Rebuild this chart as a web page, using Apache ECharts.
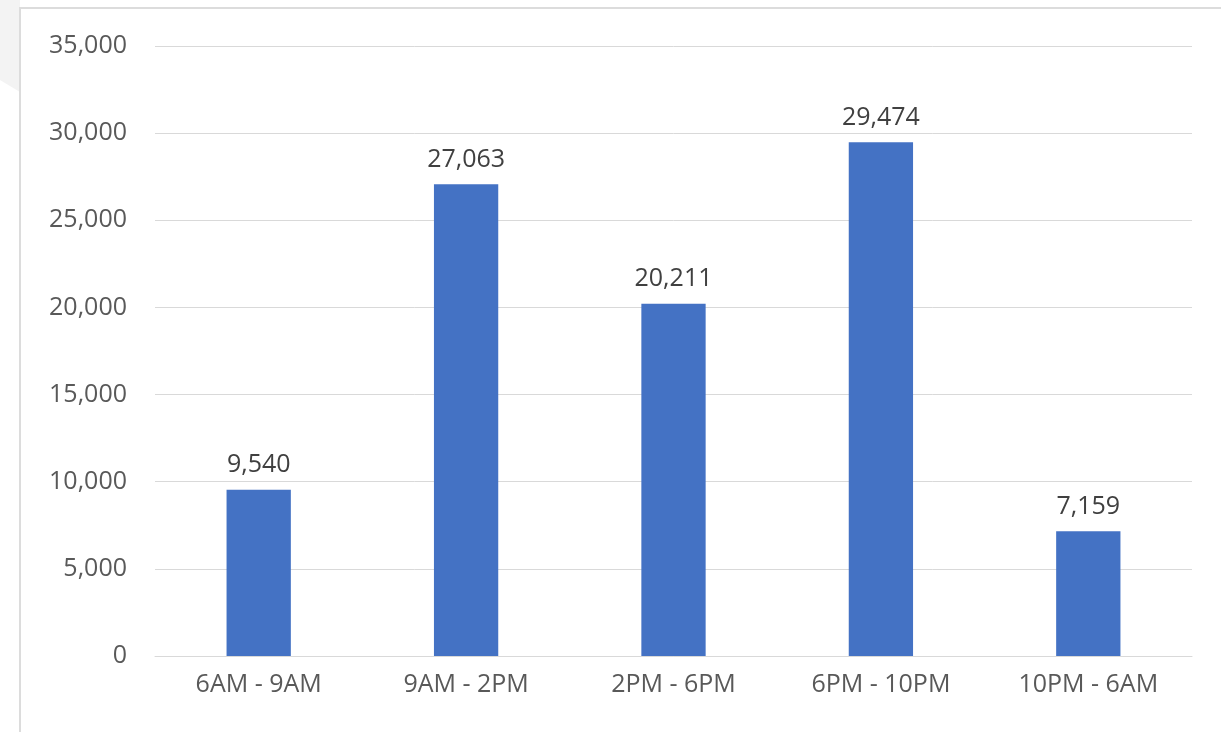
<!DOCTYPE html>
<html>
<head>
<meta charset="utf-8">
<script src="https://cdn.jsdelivr.net/npm/echarts@6/dist/echarts.min.js"></script>
<style>
html,body{margin:0;padding:0;background:#fff;}
#chart{width:1221px;height:732px;}
</style>
</head>
<body>
<div id="chart"></div>
<script>
const categories = ['6AM - 9AM', '9AM - 2PM', '2PM - 6PM', '6PM - 10PM', '10PM - 6AM'];
const values = [9540, 27063, 20211, 29474, 7159];

const chart = echarts.init(document.getElementById('chart'));
const fontFamily = '"Open Sans", "Noto Sans", sans-serif';
const fmt = v => v.toLocaleString('en-US');

chart.setOption({
  animation: false,
  backgroundColor: '#ffffff',
  graphic: [
    { type: 'polygon', shape: { points: [[0,0],[20,0],[20,92],[0,80]] }, style: { fill: '#f3f3f3' }, silent: true },
    { type: 'rect', shape: { x: 20, y: 8, width: 1210, height: 740 }, style: { fill: 'none', stroke: '#dcdcdc', lineWidth: 2 }, silent: true }
  ],
  grid: { left: 155, right: 29, top: 46, bottom: 76, containLabel: false },
  xAxis: {
    type: 'category',
    data: categories,
    axisLine: { show: true, lineStyle: { color: '#d9d9d9', width: 1 } },
    axisTick: { show: false },
    axisLabel: { color: '#595959', fontSize: 25, fontFamily: fontFamily, margin: 16 }
  },
  yAxis: {
    type: 'value',
    min: 0, max: 35000, interval: 5000,
    axisLine: { show: false },
    axisTick: { show: false },
    splitLine: { lineStyle: { color: '#d9d9d9', width: 1 } },
    axisLabel: { color: '#595959', fontSize: 25, fontFamily: fontFamily, margin: 28, formatter: v => fmt(v) }
  },
  series: [{
    type: 'bar',
    data: values,
    barWidth: '31%',
    itemStyle: { color: '#4472C4' },
    label: { show: true, position: 'top', distance: 12, color: '#404040', fontSize: 25, fontFamily: fontFamily, formatter: p => fmt(p.value) }
  }]
});
</script>
</body>
</html>
